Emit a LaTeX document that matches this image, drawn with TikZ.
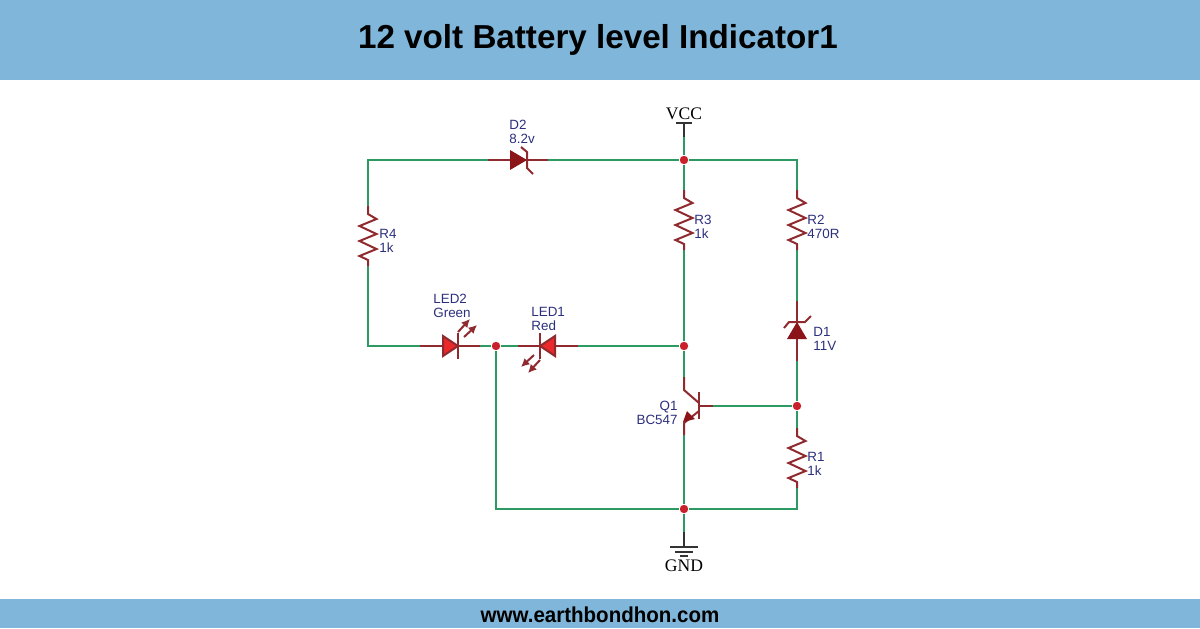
\documentclass[tikz,border=0pt]{standalone}
\usepackage{fontspec}
\usetikzlibrary{arrows.meta}
\setmainfont{Liberation Sans}
\newfontfamily\serifpart{Liberation Serif}
\definecolor{bandblue}{HTML}{7FB6D9}
\definecolor{wiregreen}{HTML}{2E9A63}
\definecolor{partred}{HTML}{8F2A2E}
\definecolor{darkfill}{HTML}{8A1418}
\definecolor{ledred}{HTML}{EA2A2A}
\definecolor{dotred}{HTML}{C9202B}
\definecolor{labelblue}{HTML}{2C2F7C}
\tikzset{
    wire/.style={draw=wiregreen,line width=1pt},
    part/.style={draw=partred,line width=1pt},
    rail/.style={draw=black!80,line width=1pt},
    junction/.style={circle,fill=dotred,inner sep=0pt,minimum size=4.2pt},
    value/.style={text=labelblue,font=\fontsize{6.7}{7}\selectfont,inner sep=0pt,align=left},
    railname/.style={font=\serifpart\fontsize{8.8}{9}\selectfont,inner sep=0pt},
    resistor/.pic={
        \draw[part] (0,0) -- (0,8) -- (8.5,13) -- (-8.5,20) -- (8.5,28) -- (-8.5,35) -- (8.5,43) -- (-8.5,50) -- (0,54) -- (0,60);
    },
    zener/.pic={
        \draw[part] (-30,0) -- (30,0);
        \fill[darkfill] (-8,-10) -- (9,0) -- (-8,10) -- cycle;
        \draw[part] (3,-13) -- (9,-8) -- (9,8) -- (15,14);
    },
    led/.pic={
        \draw[part] (-30,0) -- (30,0);
        \draw[part,fill=ledred] (-7,-10) -- (8,0) -- (-7,10) -- cycle;
        \draw[part] (8,-13) -- (8,13);
        \draw[part,-{Latex[length=4.2pt,width=4.2pt]}] (8,-14) -- (20,-27);
        \draw[part,-{Latex[length=4.2pt,width=4.2pt]}] (14,-9) -- (27,-21);
    },
}
\begin{document}
\begin{tikzpicture}[x=0.5pt,y=-0.5pt]
    \useasboundingbox (0,0) rectangle (1200,628);
    \fill[bandblue] (0,0) rectangle (1200,80);
    \fill[bandblue] (0,599) rectangle (1200,628);
    \node[inner sep=0pt,font=\bfseries\fontsize{16.6}{18}\selectfont] (title) at (598,40) {12 volt Battery level Indicator1};
    \node[inner sep=0pt,font=\bfseries\fontsize{10.8}{12}\selectfont] (site) at (600,615) {\scalebox{0.95}[1]{www.earthbondhon.com}};

    % junctions and corners
    \node[junction] (jvcc) at (684,160) {};
    \node[junction] (jled) at (496,346) {};
    \node[junction] (jcol) at (684,346) {};
    \node[junction] (jbase) at (797,406) {};
    \node[junction] (jgnd) at (684,509) {};
    \coordinate (topleft) at (368,160);
    \coordinate (topright) at (797,160);
    \coordinate (lowleft) at (368,346);
    \coordinate (botleft) at (496,509);
    \coordinate (botright) at (797,509);

    % part ends
    \coordinate (r4top) at (368,206);
    \coordinate (r4bot) at (368,266);
    \coordinate (r3top) at (684,190);
    \coordinate (r3bot) at (684,250);
    \coordinate (r2top) at (797,190);
    \coordinate (r2bot) at (797,250);
    \coordinate (r1top) at (797,428);
    \coordinate (r1bot) at (797,488);
    \coordinate (d2left) at (488,160);
    \coordinate (d2right) at (548,160);
    \coordinate (d1top) at (797,301);
    \coordinate (d1bot) at (797,361);
    \coordinate (led2left) at (420,346);
    \coordinate (led2right) at (480,346);
    \coordinate (led1left) at (518,346);
    \coordinate (led1right) at (578,346);
    \coordinate (qcol) at (684,377);
    \coordinate (qemit) at (684,435);
    \coordinate (qbase) at (713,406);
    \coordinate (vccpin) at (684,137);
    \coordinate (gndpin) at (684,532);

    % wires
    \draw[wire] (r4top) -- (topleft) -- (d2left);
    \draw[wire] (d2right) -- (jvcc) -- (topright) -- (r2top);
    \draw[wire] (vccpin) -- (jvcc) -- (r3top);
    \draw[wire] (r4bot) -- (lowleft) -- (led2left);
    \draw[wire] (led2right) -- (jled) -- (led1left);
    \draw[wire] (led1right) -- (jcol) -- (r3bot);
    \draw[wire] (jcol) -- (qcol);
    \draw[wire] (r2bot) -- (d1top);
    \draw[wire] (d1bot) -- (jbase) -- (r1top);
    \draw[wire] (qbase) -- (jbase);
    \draw[wire] (r1bot) -- (botright) -- (jgnd) -- (botleft) -- (jled);
    \draw[wire] (qemit) -- (jgnd) -- (gndpin);

    % parts
    \pic at (r4top) {resistor};
    \pic at (r3top) {resistor};
    \pic at (r2top) {resistor};
    \pic at (r1top) {resistor};
    \pic at (518,160) {zener};
    \pic[rotate=90] at (797,331) {zener};
    \pic at (450,346) {led};
    \pic[rotate=180] at (548,346) {led};

    % transistor
    \draw[part] (qcol) -- (684,390) -- (699,403);
    \draw[part] (699,392) -- (699,419);
    \draw[part] (699,406) -- (qbase);
    \draw[part] (699,411) -- (684,423) -- (qemit);
    \fill[darkfill] (683,422) -- (687,411) -- (695,419) -- cycle;

    % supply and ground
    \draw[rail] (vccpin) -- (684,123);
    \draw[rail] (676,123) -- (692,123);
    \draw[rail] (gndpin) -- (684,547);
    \draw[rail] (670,547) -- (698,547);
    \draw[rail] (675,552) -- (693,552);
    \draw[rail] (680,556) -- (688,556);
    \node[railname] (vccname) at (684,114) {VCC};
    \node[railname] (gndname) at (684,566) {GND};

    % labels
    \node[value,anchor=west] (r4val) at (379,241) {R4\\1k};
    \node[value,anchor=west] (r3val) at (694,227) {R3\\1k};
    \node[value,anchor=west] (r2val) at (807,227) {R2\\470R};
    \node[value,anchor=west] (r1val) at (807,464) {R1\\1k};
    \node[value,anchor=west] (d2val) at (509,132) {D2\\8.2v};
    \node[value,anchor=west] (d1val) at (813,339) {D1\\11V};
    \node[value,anchor=west] (led2val) at (433,306) {LED2\\Green};
    \node[value,anchor=west] (led1val) at (531,319) {LED1\\Red};
    \node[value,anchor=east,align=right] (q1val) at (678,413) {Q1\\BC547};
\end{tikzpicture}
\end{document}
